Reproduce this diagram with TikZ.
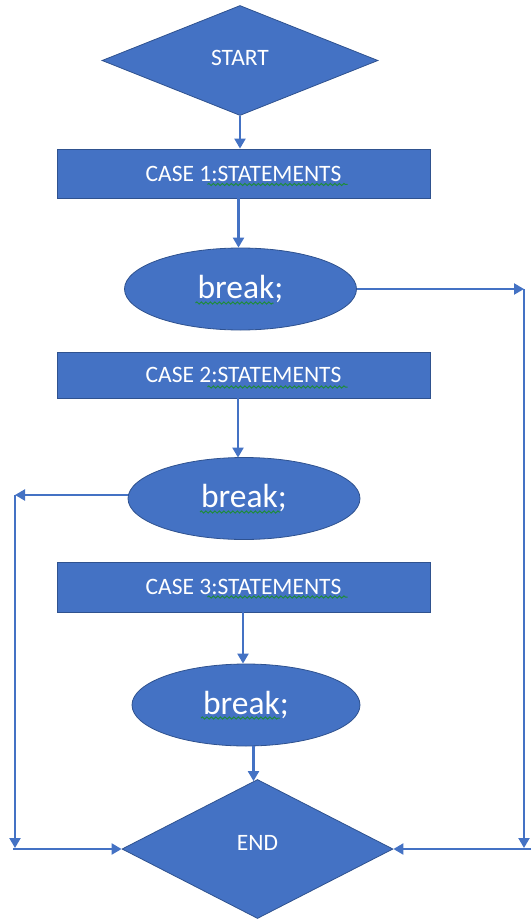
\documentclass[tikz,border=0pt]{standalone}
\usepackage{fontspec}
\setmainfont{Carlito}
\usetikzlibrary{shapes.geometric,arrows.meta,calc,decorations.pathmorphing}
\definecolor{ofblue}{HTML}{4472C4}
\definecolor{ofedge}{HTML}{2F528F}
\definecolor{spell}{HTML}{1E8C3A}
\tikzset{
  shapebase/.style={fill=ofblue, draw=ofedge, line width=0.8pt, text=white, inner sep=0pt},
  diabox/.style={shapebase, diamond, font=\fontsize{23.5}{26}\selectfont},
  casebox/.style={shapebase, rectangle, minimum width=373pt, font=\fontsize{23.5}{26}\selectfont},
  breakbox/.style={shapebase, ellipse, minimum width=232pt, minimum height=82pt, font=\fontsize{33.5}{38}\selectfont},
  conn/.style={draw=ofblue, line width=2.2pt, -{Triangle[width=11pt,length=10pt]}},
  squig/.style={draw=spell, line width=1pt, decorate, decoration={snake, amplitude=1.1pt, segment length=4.5pt}}
}
\begin{document}
\begin{tikzpicture}[x=1pt,y=-1pt]
\useasboundingbox (0,0) rectangle (531,920);
% shapes
\node[diabox, minimum width=276pt, minimum height=110pt] (start) at (240,60.5) {\raisebox{5pt}{START}};
\node[casebox, minimum height=49pt] (case1) at (243.5,173.5) {CASE 1:STATEMENTS};
\node[breakbox] (b1) at (240.5,289) {break;};
\node[casebox, minimum height=46pt] (case2) at (243.5,375) {CASE 2:STATEMENTS};
\node[breakbox] (b2) at (244,498.5) {break;};
\node[casebox, minimum height=50pt] (case3) at (243.5,587) {CASE 3:STATEMENTS};
\node[breakbox, minimum width=228pt] (b3) at (246,705) {break;};
\node[diabox, minimum width=271pt, minimum height=139pt] (end) at (257.5,849) {\raisebox{13pt}{END}};
% spell-check marks
\draw[squig] ($(case1.center)+(-36,11)$) -- ($(case1.center)+(104,11)$);
\draw[squig] ($(case2.center)+(-36,12)$) -- ($(case2.center)+(104,12)$);
\draw[squig] ($(case3.center)+(-36,10)$) -- ($(case3.center)+(104,10)$);
\draw[squig] ($(b1.center)+(-45,14)$) -- ($(b1.center)+(33,14)$);
\draw[squig] ($(b2.center)+(-44,13.5)$) -- ($(b2.center)+(36,13.5)$);
\draw[squig] ($(b3.center)+(-45,13)$) -- ($(b3.center)+(34,13)$);
% corner points
\coordinate (r1) at (524,289);
\coordinate (r2) at (524,848);
\coordinate (r3) at (531,849);
\coordinate (l1) at (15,495);
\coordinate (l2) at (15,848);
\coordinate (l3) at (13,849);
% connectors
\draw[conn] (start.south) -- (start.south |- case1.north);
\draw[conn] ($(b1.north |- case1.south)+(-2,0)$) -- ($(b1.north)+(-2,0)$);
\draw[conn] (b1.east) -- (r1);
\draw[conn] (r1) -- (r2);
\draw[conn] (r3) -- (end.east);
\draw[conn] ($(b2.north |- case2.south)+(-6,0)$) -- ($(b2.north)+(-6,0.5)$);
\draw[conn] (b2.west |- l1) -- (l1);
\draw[conn] (l1) -- (l2);
\draw[conn] (l3) -- (end.west);
\draw[conn] ($(b3.north |- case3.south)+(-3,0)$) -- ($(b3.north)+(-3,0)$);
\draw[conn] ($(b3.south -| end.north)+(-4,-0.5)$) -- ($(end.north)+(-4,2)$);
\end{tikzpicture}
\end{document}
